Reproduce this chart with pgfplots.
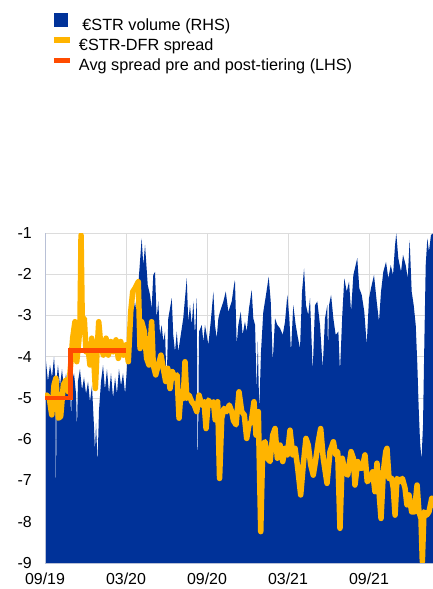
\documentclass[border=0pt]{standalone}
\usepackage{fontspec}
\setmainfont{Liberation Sans}
\usepackage{pgfplots}
\usepackage{pgfplotstable}
\pgfplotsset{compat=1.18}
\definecolor{ecbblue}{HTML}{003299}
\definecolor{ecbyellow}{HTML}{FFB400}
\definecolor{ecbred}{HTML}{FF4B00}
\definecolor{gridgray}{HTML}{DCDCDC}
\definecolor{axisgray}{HTML}{B8C0D6}

% x = months since start of Sep 2019; vol = EUR STR volume (RHS, EUR bn)
\pgfplotstableread{
m vol
0.00 45
0.07 49
0.22 44
0.37 48
0.52 45
0.67 50
0.78 44
0.81 1
0.85 44
0.96 48
1.11 43
1.26 47
1.41 42
1.56 46
1.70 41
1.85 45
1.93 35
2.00 44
2.15 46
2.30 41
2.37 32
2.44 44
2.59 47
2.74 42
2.89 45
3.04 41
3.19 44
3.33 39
3.48 43
3.63 33
3.70 27
3.78 34
3.89 24
4.00 37
4.15 44
4.30 48
4.44 42
4.59 47
4.74 41
4.89 46
5.04 40
5.19 45
5.33 41
5.48 47
5.63 43
5.78 46
5.93 41
6.07 47
6.22 55
6.37 60
6.52 65
6.67 61.7
6.91 67.4
7.16 78.7
7.28 72.2
7.41 77.1
7.61 67.4
7.78 65.0
7.90 61.7
8.02 69.8
8.15 70.6
8.27 59.3
8.39 63.4
8.52 55.3
8.64 57.7
8.76 53.7
8.89 56.1
9.01 43.2
9.13 59.3
9.39 64.2
9.50 55.3
9.63 51.2
9.76 56.1
9.87 51.2
10.13 56.9
10.24 59.3
10.50 69.0
10.61 58.5
10.74 62.5
10.87 57.7
10.99 63.4
11.11 55.3
11.24 64.2
11.31 18.9
11.41 56.1
11.61 57.7
11.73 53.7
11.85 57.7
12.10 52.9
12.30 59.3
12.47 65.8
12.59 57.7
12.72 54.5
12.84 59.3
12.96 60.9
13.21 63.4
13.39 65.8
13.58 60.9
13.83 63.4
14.00 67.4
14.07 68.6
14.20 52.9
14.32 57.7
14.50 60.9
14.64 55.3
14.81 58.5
14.94 56.1
15.11 61.7
15.31 66.2
15.43 59.3
15.56 57.7
15.68 41.5
15.76 53.7
15.87 36.7
16.00 51.2
16.17 60.9
16.37 65.0
16.57 69.4
16.72 63.4
16.87 48.8
17.04 59.3
17.21 57.7
17.41 56.9
17.61 55.3
17.78 58.5
17.95 65.0
18.10 59.3
18.22 51.2
18.39 62.5
18.57 57.7
18.74 54.5
18.89 52.0
19.04 65.8
19.19 71.4
19.33 62.5
19.50 60.1
19.63 64.2
19.83 46.4
20.00 62.5
20.17 63.4
20.37 57.7
20.57 47.2
20.74 59.3
20.91 62.5
20.96 51.2
21.04 62.5
21.19 65.0
21.36 59.3
21.53 55.3
21.73 56.1
21.85 46.4
22.02 60.1
22.17 69.0
22.35 65.8
22.52 68.2
22.67 60.9
22.84 69.8
23.01 72.2
23.13 73.9
23.28 66.6
23.46 65.0
23.65 60.9
23.83 52.9
24.00 64.2
24.20 67.4
24.37 69.8
24.57 63.4
24.74 58.5
24.89 65.8
25.06 70.6
25.26 73.0
25.43 69.0
25.61 72.2
25.78 69.8
25.93 77.1
26.02 79.9
26.17 73.9
26.37 70.6
26.52 74.7
26.72 72.2
26.87 69.0
27.01 78.3
27.16 65.8
27.31 62.5
27.46 57.7
27.58 48.0
27.68 37.5
27.78 29.4
27.89 25.0
28.00 33.5
28.10 53.7
28.20 72.2
28.32 78.7
28.44 75.5
28.59 79.5
28.74 79.9
}\volumedata

% EUR STR - DFR spread (basis points, LHS)
\pgfplotstableread{
m s
0.13 -4.93
0.32 -5.01
0.50 -5.41
0.67 -4.68
0.81 -4.52
0.99 -5.49
1.16 -5.45
1.36 -4.68
1.56 -4.56
1.73 -4.85
1.90 -4.20
2.05 -3.55
2.22 -3.15
2.35 -4.12
2.50 -3.63
2.59 -3.23
2.67 -1.05
2.76 -3.15
2.91 -3.07
3.04 -3.88
3.16 -3.71
3.33 -4.20
3.46 -3.55
3.58 -3.88
3.73 -4.77
3.83 -4.04
3.98 -3.15
4.13 -3.71
4.32 -3.96
4.52 -3.55
4.69 -3.96
4.87 -3.63
5.06 -3.88
5.26 -3.59
5.43 -4.04
5.61 -3.63
5.80 -3.96
6.00 -3.71
6.17 -4.12
6.35 -2.91
6.50 -2.42
6.67 -2.34
6.91 -2.18
7.04 -3.80
7.16 -3.15
7.36 -3.39
7.53 -4.04
7.70 -4.20
7.90 -3.15
8.02 -4.20
8.20 -4.44
8.39 -4.20
8.59 -3.96
8.76 -4.28
8.94 -4.60
9.09 -4.28
9.26 -4.77
9.43 -4.36
9.63 -4.52
9.78 -4.44
9.93 -5.49
10.07 -4.85
10.24 -5.01
10.37 -4.12
10.50 -5.01
10.67 -4.93
10.87 -5.09
11.06 -5.17
11.24 -5.33
11.41 -4.93
11.61 -5.17
11.78 -5.09
11.93 -5.74
12.10 -5.05
12.30 -5.17
12.47 -5.09
12.61 -5.53
12.79 -5.09
12.93 -6.95
13.09 -5.49
13.26 -5.25
13.46 -5.33
13.65 -5.17
13.83 -5.33
13.96 -5.55
14.15 -5.65
14.37 -4.85
14.57 -5.33
14.76 -5.41
14.94 -5.98
15.11 -5.65
15.28 -5.57
15.48 -5.09
15.63 -5.90
15.80 -5.33
15.98 -8.24
16.13 -6.14
16.30 -6.06
16.47 -6.46
16.67 -6.54
16.87 -5.90
17.04 -5.74
17.21 -6.46
17.41 -6.14
17.61 -6.54
17.78 -6.22
17.95 -6.38
18.15 -5.78
18.35 -6.38
18.52 -6.22
18.69 -6.62
18.94 -7.35
19.13 -6.62
19.33 -5.98
19.50 -6.14
19.68 -6.62
19.87 -6.87
20.07 -6.46
20.24 -6.06
20.42 -5.74
20.61 -6.46
20.89 -7.07
21.11 -6.30
21.36 -6.06
21.53 -6.38
21.68 -6.30
21.85 -8.16
22.02 -6.46
22.22 -6.79
22.42 -6.87
22.67 -6.30
22.84 -6.46
22.96 -7.11
23.16 -6.54
23.33 -6.70
23.50 -6.70
23.70 -6.38
23.87 -7.03
24.07 -6.95
24.27 -6.79
24.44 -7.27
24.59 -6.58
24.74 -7.27
24.89 -7.92
25.06 -6.79
25.24 -6.30
25.33 -6.22
25.48 -6.95
25.68 -6.95
25.80 -7.19
25.93 -7.84
26.07 -6.95
26.27 -7.03
26.47 -6.95
26.67 -7.19
26.81 -7.59
26.96 -7.35
27.16 -7.76
27.36 -7.76
27.56 -7.11
27.70 -7.76
27.85 -7.92
27.95 -8.97
28.07 -7.76
28.27 -7.84
28.44 -7.76
28.65 -7.43
28.74 -7.60
}\spreaddata

\begin{document}
\begin{tikzpicture}
\useasboundingbox (0,0) rectangle (433bp,589bp);
% RHS: volume
\begin{axis}[
  at={(45bp,26bp)}, anchor=south west,
  width=388bp, height=330bp, scale only axis,
  xmin=0, xmax=28.74, ymin=0, ymax=80,
  xtick={0,6,12,18,24}, ytick={0,10,...,80},
  xticklabels={}, yticklabels={},
  major tick length=0pt,
  grid=major, grid style={gridgray, line width=1bp},
  axis line style={draw=none},
]
\addplot[fill=ecbblue, draw=none] table[x=m, y=vol] {\volumedata} \closedcycle;
\end{axis}
% LHS: spread
\begin{axis}[
  at={(45bp,26bp)}, anchor=south west,
  width=388bp, height=330bp, scale only axis,
  xmin=0, xmax=28.74, ymin=-9, ymax=-1,
  axis x line=bottom, axis y line=left,
  axis line style={axisgray, line width=1bp, -},
  xtick={0,6,12,18,24},
  xticklabels={09/19,03/20,09/20,03/21,09/21},
  ytick={-9,-8,-7,-6,-5,-4,-3,-2,-1},
  yticklabels={-9,-8,-7,-6,-5,-4,-3,-2,-1},
  major tick length=0pt,
  tick label style={font=\fontsize{16}{19}\selectfont},
  xticklabel style={anchor=north, inner sep=0pt, yshift=-10bp},
  yticklabel style={anchor=east, inner sep=0pt, xshift=-13bp},
  /pgf/number format/assume math mode=true,
  legend cell align=left,
  legend style={
    at={(axis description cs:0.01546,1.6652)}, anchor=north west,
    draw=none, fill=none, inner sep=0pt, outer sep=0pt,
    font=\fontsize{16.3}{19}\selectfont,
    row sep=1bp,
    nodes={inner sep=0pt, text height=11.5bp, text depth=3.5bp},
    /tikz/every odd column/.append style={column sep=6bp},
  },
]
\addlegendimage{legend image code/.code={
  \path[draw=none, fill=none] (0bp,-3.5bp) rectangle (16bp,11.5bp);
  \fill[ecbblue, draw=none] (0bp,-0.7bp) rectangle (14bp,12.7bp);}}
\addlegendentry{\kern3.4bp €STR volume (RHS)}
\addplot[ecbyellow, line width=5.5bp, line join=round, line cap=round,
  legend image code/.code={
  \path[draw=none, fill=none] (0bp,-3.5bp) rectangle (16bp,11.5bp);
  \draw[ecbyellow, line width=6bp, line cap=butt] (0bp,6bp) -- (16bp,6bp);}]
  table[x=m, y=s] {\spreaddata};
\addlegendentry{€STR-DFR spread}
\addplot[ecbred, line width=4.5bp, line join=miter,
  legend image code/.code={
  \path[draw=none, fill=none] (0bp,-3.5bp) rectangle (16bp,11.5bp);
  \draw[ecbred, line width=5.5bp, line cap=butt] (0bp,5.5bp) -- (16bp,5.5bp);}]
  coordinates {(0,-5.0) (1.90,-5.0) (1.90,-3.85) (6.0,-3.85)};
\addlegendentry{Avg spread pre and post-tiering (LHS)}
\end{axis}
\end{tikzpicture}
\end{document}
